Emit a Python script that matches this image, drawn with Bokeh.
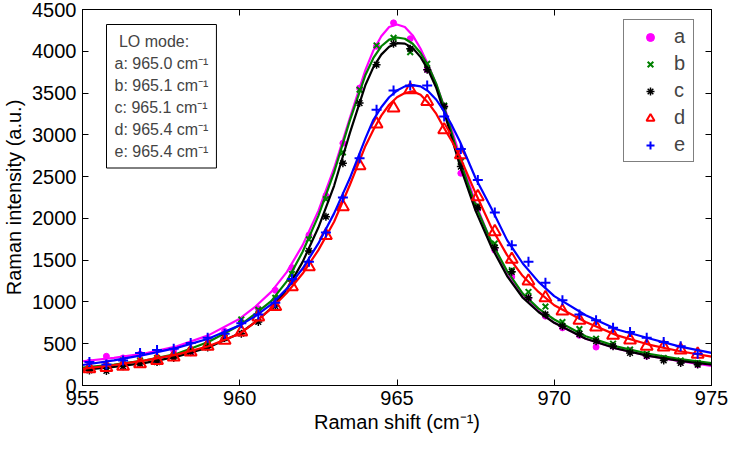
from bokeh.plotting import figure
from bokeh.models import (Range1d, FixedTicker, LinearAxis, Legend, LegendItem,
                          Label, CustomJSTickFormatter)
from bokeh.embed import file_html
from bokeh.resources import INLINE

FONT = "Liberation Sans"

# ---------------- data ----------------
x_ticks = [955, 960, 965, 970, 975]
y_ticks = [0, 500, 1000, 1500, 2000, 2500, 3000, 3500, 4000, 4500]

series_names = ["a", "b", "c", "d", "e"]
lo_modes = ["965.0", "965.1", "965.1", "965.4", "965.4"]

# measured points
x_pts = [955.22, 955.76, 956.29, 956.83, 957.37, 957.90, 958.44, 958.98, 959.52,
         960.05, 960.59, 961.13, 961.66, 962.20, 962.74, 963.28, 963.81, 964.35,
         964.89, 965.42, 965.96, 966.50, 967.03, 967.57, 968.11, 968.65, 969.18,
         969.72, 970.26, 970.80, 971.33, 971.87, 972.41, 972.94, 973.48, 974.02,
         974.56]
a_pts = [280, 350, 330, 375, 290, 420, 390, 560, 650, 760, 920, 1140, 1410, 1800,
         2270, 2900, 3560, 4060, 4340, 4150, 3780, 3340, 2540, 2110, 1620, 1300,
         1040, 830, 690, 600, 460, 470, 420, 350, 320, 280, 250]
b_pts = [200, 230, 300, 300, 330, 360, 420, 490, 600, 790, 905, 1050, 1335, 1750,
         2230, 2790, 3540, 4070, 4160, 3990, 3850, 3350, 2680, 2150, 1700, 1380,
         1120, 945, 760, 675, 560, 500, 430, 380, 330, 300, 270]
c_pts = [180, 175, 230, 260, 280, 330, 400, 455, 567, 620, 760, 950, 1250, 1610,
         2020, 2660, 3380, 3840, 4090, 4030, 3780, 3340, 2620, 2130, 1650, 1360,
         1050, 850, 710, 615, 530, 470, 390, 355, 300, 270, 250]
d_pts = [200, 215, 230, 260, 300, 340, 400, 470, 540, 640, 820, 945, 1180, 1420,
         1795, 2140, 2630, 3130, 3320, 3540, 3400, 3060, 2760, 2260, 1840, 1510,
         1250, 1050, 890, 780, 700, 600, 545, 470, 460, 425, 375]
e_pts = [280, 250, 300, 390, 425, 440, 510, 570, 620, 745, 850, 990, 1275, 1480,
         1830, 2250, 2720, 3300, 3530, 3590, 3590, 3220, 2830, 2460, 2070, 1680,
         1480, 1230, 1020, 850, 780, 690, 640, 570, 520, 470, 380]

# fitted curves
x_fit = [955, 956, 957, 958, 959, 960, 960.5, 961, 961.5, 962, 962.5, 963, 963.5,
         964, 964.25, 964.5, 964.75, 965, 965.25, 965.5, 965.75, 966, 966.25,
         966.5, 966.75, 967, 967.5, 968, 968.5, 969, 969.5, 970, 971, 972, 973,
         974, 975]
a_fit = [290, 330, 385, 470, 600, 800, 945, 1120, 1360, 1680, 2090, 2600, 3200,
         3780, 4010, 4180, 4290, 4320, 4290, 4190, 4030, 3830, 3600, 3340, 3050,
         2750, 2180, 1710, 1350, 1080, 890, 750, 560, 440, 355, 290, 235]
b_fit = [215, 250, 300, 380, 520, 720, 860, 1010, 1250, 1600, 2030, 2550, 3170,
         3720, 3920, 4060, 4140, 4165, 4150, 4090, 3980, 3820, 3610, 3330, 3010,
         2690, 2150, 1720, 1370, 1100, 920, 790, 590, 465, 380, 315, 268]
c_fit = [187, 222, 270, 345, 455, 625, 760, 925, 1150, 1480, 1890, 2390, 3020,
         3600, 3810, 3960, 4055, 4097, 4092, 4040, 3930, 3770, 3560, 3270, 2950,
         2630, 2090, 1660, 1310, 1050, 880, 750, 560, 440, 355, 295, 248]
d_fit = [200, 245, 300, 370, 470, 620, 760, 920, 1110, 1340, 1620, 1960, 2400,
         2870, 3060, 3230, 3360, 3450, 3500, 3520, 3480, 3380, 3250, 3080, 2920,
         2740, 2300, 1890, 1560, 1310, 1120, 960, 760, 600, 490, 410, 345]
e_fit = [245, 300, 370, 450, 560, 720, 830, 970, 1160, 1400, 1700, 2060, 2480,
         2960, 3180, 3330, 3450, 3530, 3580, 3595, 3580, 3520, 3420, 3280, 3110,
         2920, 2480, 2120, 1740, 1460, 1240, 1070, 840, 670, 565, 465, 390]

pts = [a_pts, b_pts, c_pts, d_pts, e_pts]
fits = [a_fit, b_fit, c_fit, d_fit, e_fit]

# ---------------- styles ----------------
colors = ["#ff00ff", "#008000", "#000000", "#ff0000", "#0000ff"]
markers = ["circle", "x", "asterisk", "triangle", "cross"]
msizes = [6, 8, 8, 12, 10]
mwidths = [1, 2, 1.5, 2, 2]
mfill = [True, False, False, False, False]

p = figure(width=730, height=447, output_backend="svg", toolbar_location=None,
           x_range=Range1d(955, 975), y_range=Range1d(0, 4500),
           min_border_left=78, min_border_right=19, min_border_top=9,
           min_border_bottom=62)
p.grid.visible = False
p.outline_line_color = "black"
p.outline_line_width = 1
p.background_fill_color = "white"
p.border_fill_color = "white"

items = []
for name, ys, fy, col, mk, ms, mw, mf in zip(series_names, pts, fits, colors,
                                             markers, msizes, mwidths, mfill):
    r = p.scatter(x_pts, ys, marker=mk, size=ms, line_color=col, line_width=mw,
                  fill_color=col if mf else None)
    p.line(x_fit, fy, line_color=col, line_width=2.2)
    items.append(LegendItem(label=name, renderers=[r]))

xa = p.xaxis[0]
ya = p.yaxis[0]
xa.ticker = FixedTicker(ticks=x_ticks)
ya.ticker = FixedTicker(ticks=y_ticks)
xa.axis_label = "Raman shift (cm\u207b\u00b9)"
ya.axis_label = "Raman intensity (a.u.)"
for ax in (xa, ya):
    ax.major_tick_in = 6
    ax.major_tick_out = 0
    ax.minor_tick_line_color = None
    ax.axis_line_color = "black"
    ax.major_tick_line_color = "black"
    ax.major_label_text_font = FONT
    ax.major_label_text_font_size = "20px"
    ax.major_label_text_color = "black"
    ax.axis_label_text_font = FONT
    ax.axis_label_text_font_size = "20px"
    ax.axis_label_text_font_style = "normal"
    ax.axis_label_text_color = "black"
xa.major_label_standoff = 5
xa.axis_label_standoff = 3
ya.major_label_standoff = 6
ya.axis_label_standoff = 4

for loc, tk in (("above", x_ticks), ("right", y_ticks)):
    ax = LinearAxis(ticker=FixedTicker(ticks=tk), major_tick_in=6, major_tick_out=0,
                    minor_tick_line_color=None, major_label_text_font_size="0px",
                    major_label_standoff=0,
                    formatter=CustomJSTickFormatter(code="return ''"))
    p.add_layout(ax, loc)

legend = Legend(items=items, location=(541, 223), margin=0, padding=5, spacing=4,
                glyph_height=20, glyph_width=42, label_standoff=3, label_width=14,
                label_height=20, label_text_font=FONT, label_text_font_size="20px",
                border_line_color="black", border_line_width=1,
                background_fill_color="white", background_fill_alpha=1)
p.add_layout(legend)

info_lines = ["\u00a0LO mode:"] + [f"{n}: {v} cm\u207b\u00b9" for n, v in zip(series_names, lo_modes)]
info = Label(x=24, y=361, x_units="screen", y_units="screen",
             text="\n".join(info_lines), text_font=FONT, text_font_size="16px",
             text_line_height=1.3, text_align="left", text_baseline="top",
             padding=8, border_line_color="black", border_line_width=1,
             background_fill_color="white", background_fill_alpha=1)
p.add_layout(info)

open("out.html", "w").write(file_html(p, INLINE))
